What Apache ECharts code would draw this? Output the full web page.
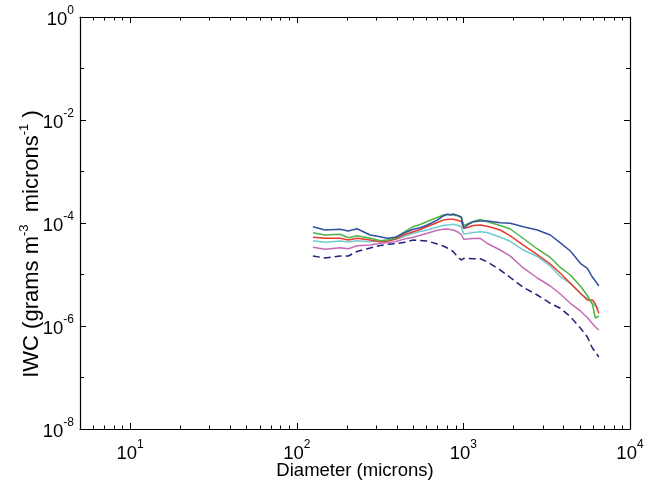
<!DOCTYPE html>
<html>
<head>
<meta charset="utf-8">
<script src="https://cdn.jsdelivr.net/npm/echarts@6/dist/echarts.min.js"></script>
<style>html,body{margin:0;padding:0;background:#fff}#c{width:657px;height:485px}</style>
</head>
<body>
<div id="c"></div>
<script>
// Diameter (microns)
const diameters = [125,148,182,204,230,276,317,349,390,436,500,551,607,697,757,800,834,870,932,971,1005,1055,1147,1263,1391,1666,1912,2289,2778,3325,3818,4385,5035,5546,5944,6196,6500];
// IWC (grams m^-3 microns^-1)
const blueSeries = [8.48e-5,7.31e-5,7.54e-5,6.99e-5,7.75e-5,5.85e-5,5.42e-5,5.05e-5,5.28e-5,6.31e-5,7.54e-5,8.11e-5,9.15e-5,1.14e-4,1.37e-4,1.48e-4,1.43e-4,1.50e-4,1.39e-4,1.28e-4,7.89e-5,9.15e-5,1.06e-4,1.09e-4,1.09e-4,1.01e-4,9.87e-5,8.48e-5,7.31e-5,5.85e-5,4.12e-5,2.86e-5,1.65e-5,1.31e-5,8.94e-6,7.48e-6,5.98e-6];
const greenSeries = [6.48e-5,5.85e-5,6.03e-5,5.18e-5,5.67e-5,5.05e-5,4.53e-5,4.67e-5,5.05e-5,6.48e-5,8.48e-5,9.35e-5,1.07e-4,1.28e-4,1.43e-4,1.46e-4,1.46e-4,1.43e-4,1.37e-4,1.31e-4,8.86e-5,9.56e-5,1.07e-4,1.17e-4,1.055e-4,8.94e-5,7.65e-5,5.0e-5,3.13e-5,2.14e-5,1.37e-5,9.78e-6,5.98e-6,3.91e-6,2.67e-6,1.43e-6,1.56e-6];
const redSeries = [5.28e-5,5.05e-5,5.05e-5,4.67e-5,5.05e-5,4.67e-5,4.33e-5,4.47e-5,4.83e-5,5.85e-5,6.78e-5,7.48e-5,8.55e-5,1.02e-4,1.14e-4,1.17e-4,1.18e-4,1.18e-4,1.12e-4,1.07e-4,7.89e-5,8.18e-5,8.94e-5,9.15e-5,8.67e-5,7.31e-5,5.64e-5,3.71e-5,2.44e-5,1.60e-5,1.055e-5,6.75e-6,4.31e-6,3.20e-6,3.20e-6,2.67e-6,1.75e-6];
const cyanSeries = [4.53e-5,4.22e-5,4.47e-5,4.28e-5,4.53e-5,4.33e-5,4.47e-5,4.61e-5,4.83e-5,5.42e-5,6.31e-5,6.81e-5,7.31e-5,8.36e-5,8.94e-5,9.15e-5,9.27e-5,9.44e-5,8.94e-5,8.36e-5,6.11e-5,6.22e-5,6.54e-5,6.78e-5,6.54e-5,5.28e-5,4.41e-5,2.99e-5,2.24e-5,1.46e-5,9.06e-6,6.75e-6,4.31e-6,3.42e-6,2.73e-6,2.45e-6,2.21e-6];
const magentaSeries = [3.37e-5,3.09e-5,3.31e-5,3.17e-5,3.62e-5,3.74e-5,4.03e-5,4.18e-5,4.33e-5,4.83e-5,5.28e-5,5.77e-5,6.31e-5,7.25e-5,7.58e-5,7.65e-5,7.48e-5,7.31e-5,6.60e-5,5.98e-5,4.83e-5,4.89e-5,4.98e-5,5.05e-5,4.0e-5,2.99e-5,2.27e-5,1.34e-5,8.55e-6,5.98e-6,4.18e-6,2.76e-6,1.96e-6,1.46e-6,1.12e-6,9.56e-7,8.36e-7];
const dashedSeries = [2.29e-5,2.09e-5,2.29e-5,2.29e-5,2.80e-5,3.27e-5,3.66e-5,3.86e-5,3.96e-5,4.18e-5,4.67e-5,4.57e-5,4.47e-5,3.91e-5,3.58e-5,3.27e-5,3.06e-5,2.77e-5,2.14e-5,1.91e-5,2.06e-5,2.04e-5,2.02e-5,2.02e-5,1.76e-5,1.22e-5,8.74e-6,5.64e-6,4.0e-6,2.76e-6,2.21e-6,1.52e-6,9.14e-7,6.11e-7,3.74e-7,3.13e-7,2.50e-7];

// axis ranges & ticks (raw values)
const xRange = [5, 10000];
const yRange = [1e-8, 1];
const xMajorTicks = [10, 100, 1000, 10000];
const xMinorTicks = [6,7,8,9,20,30,40,50,60,70,80,90,200,300,400,500,600,700,800,900,2000,3000,4000,5000,6000,7000,8000,9000];
const yMajorTicks = [1e-8, 1e-6, 1e-4, 1e-2, 1];
const yMinorTicks = [1e-7, 1e-5, 1e-3, 1e-1];

const L = Math.log10;
const FONT = "'Liberation Sans', Arial, Helvetica, sans-serif";
const rich = {
  b: {fontSize: 18.5, lineHeight: 24, verticalAlign: 'bottom', fontFamily: FONT, color: '#000'},
  s: {fontSize: 12, lineHeight: 12, verticalAlign: 'top', fontFamily: FONT, color: '#000'}
};
function fmt(v) { return '{b|10}{s|' + Math.round(v) + '}'; }

function mkAxis(dim, position, ticks, len, showLine, labels, margin) {
  const range = dim === 'x' ? xRange : yRange;
  return {
    type: 'value', position: position,
    min: L(range[0]), max: L(range[1]),
    splitLine: {show: false},
    axisLine: {show: showLine, onZero: false, lineStyle: {color: '#000', width: 1.2}},
    axisTick: {show: true, inside: true, length: len, customValues: ticks.map(L), lineStyle: {color: '#000', width: 1}},
    axisLabel: labels ? {show: true, customValues: labels.map(L), formatter: fmt, rich: rich, margin: margin} : {show: false}
  };
}

const chart = echarts.init(document.getElementById('c'));
function line(data, color, dashed) {
  return {
    type: 'line', xAxisIndex: 0, yAxisIndex: 0, symbol: 'none', animation: false,
    data: diameters.map((d, i) => [L(d), L(data[i])]),
    lineStyle: {color: color, width: 1.5, type: dashed ? [7, 4] : 'solid'},
    itemStyle: {color: color}
  };
}
chart.setOption({
  animation: false,
  backgroundColor: '#fff',
  grid: {left: 80, top: 17, right: 27, bottom: 56, containLabel: false, outerBoundsMode: 'none'},
  xAxis: [
    Object.assign(mkAxis('x', 'bottom', xMajorTicks, 6, true, xMajorTicks, 10), {
      name: 'Diameter (microns)', nameLocation: 'middle', nameGap: 32, nameMoveOverlap: false,
      nameTextStyle: {fontSize: 18.5, fontFamily: FONT, color: '#000'}
    }),
    mkAxis('x', 'bottom', xMinorTicks, 3.5, false, null),
    mkAxis('x', 'top', xMajorTicks, 6, true, null),
    mkAxis('x', 'top', xMinorTicks, 3.5, false, null)
  ],
  yAxis: [
    mkAxis('y', 'left', yMajorTicks, 6, true, yMajorTicks, 6),
    mkAxis('y', 'left', yMinorTicks, 4, false, null),
    mkAxis('y', 'right', yMajorTicks, 6, true, null),
    mkAxis('y', 'right', yMinorTicks, 4, false, null)
  ],
  graphic: [{
    type: 'text', x: 30, y: 244, rotation: Math.PI / 2,
    style: {
      text: '{t|IWC (grams m}{s|-3}{t|  microns}{s|-1}{t| )}',
      align: 'center', verticalAlign: 'middle',
      rich: {
        t: {fontSize: 22, lineHeight: 25, verticalAlign: 'bottom', fontFamily: FONT, fill: '#000'},
        s: {fontSize: 13, lineHeight: 13, verticalAlign: 'top', fontFamily: FONT, fill: '#000'}
      }
    }
  }],
  series: [
    line(dashedSeries, '#22227a', true),
    line(magentaSeries, '#c46cb8'),
    line(cyanSeries, '#72cccf'),
    line(redSeries, '#e63b2e'),
    line(greenSeries, '#4cb447'),
    line(blueSeries, '#31519f')
  ]
});
</script>
</body>
</html>
